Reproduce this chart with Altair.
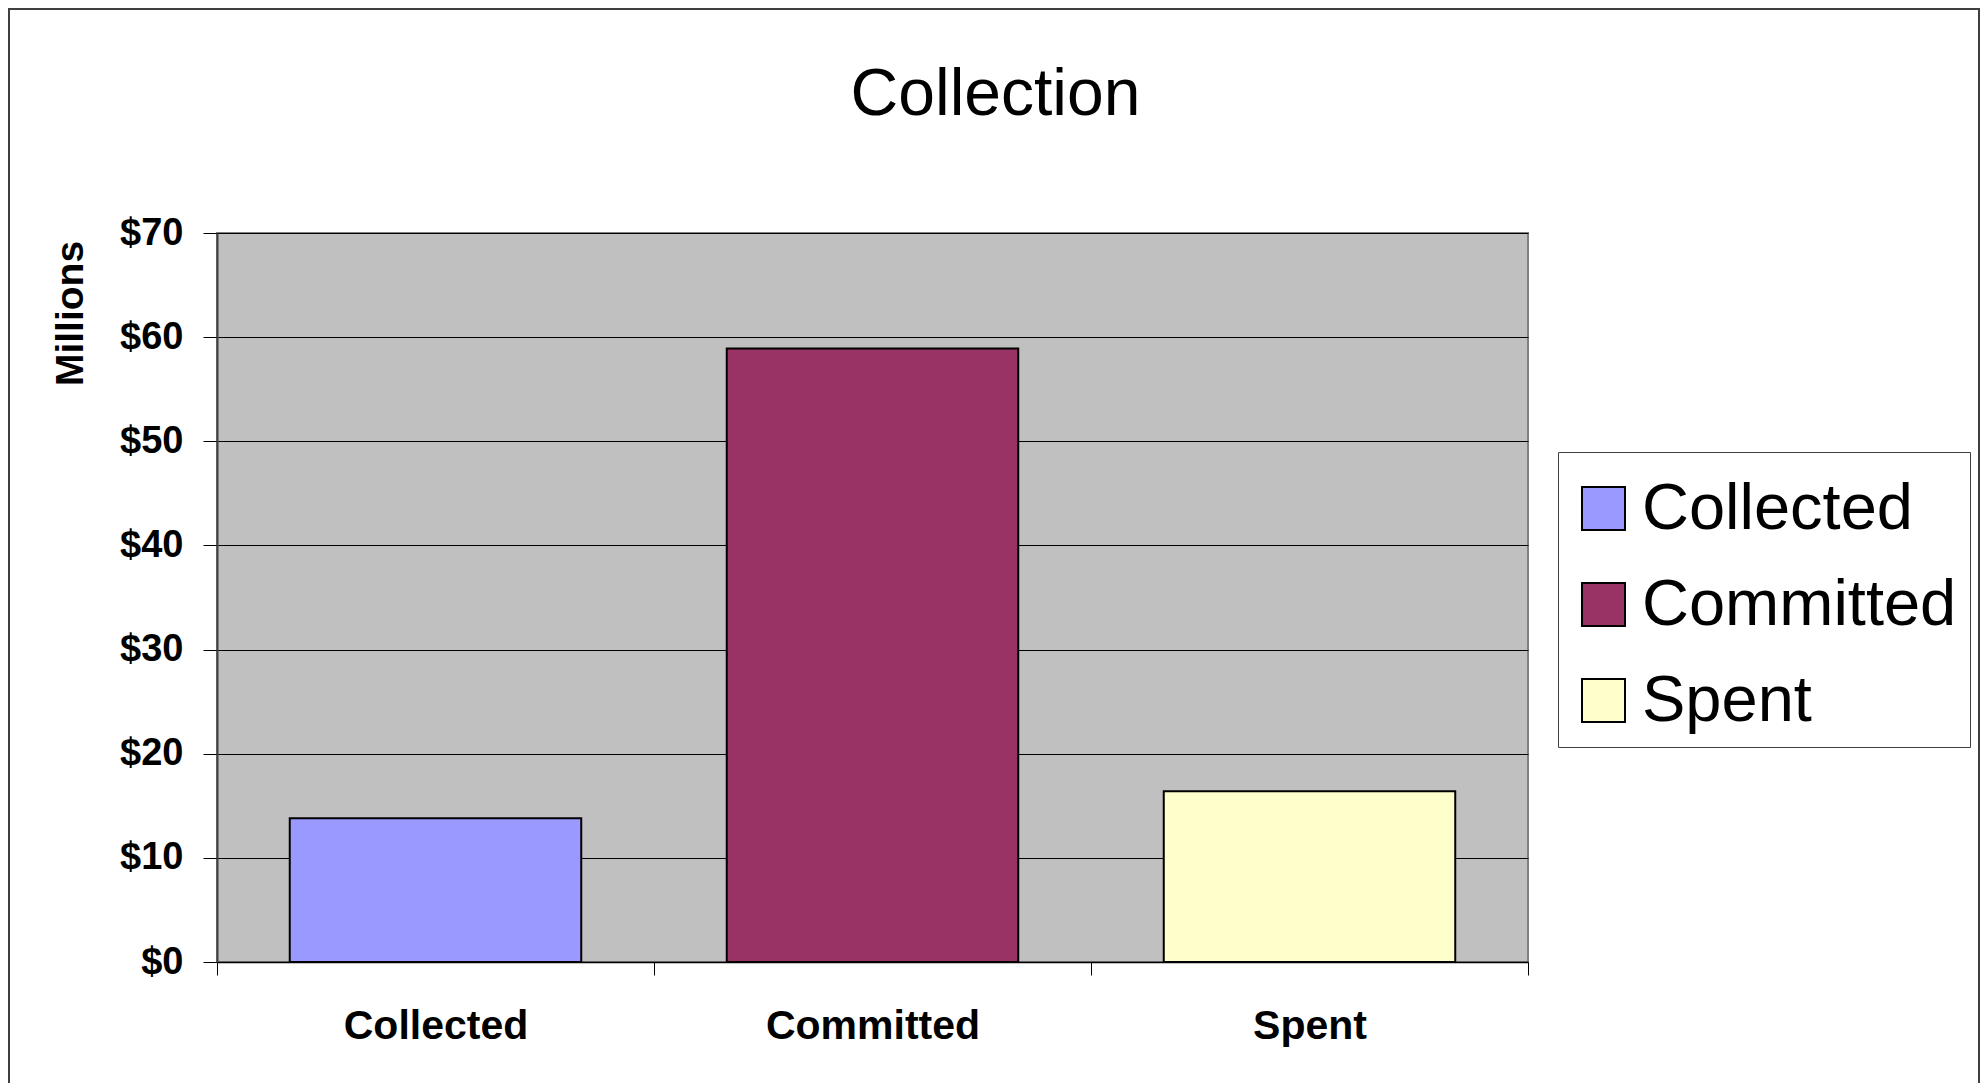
import altair as alt
import pandas as pd

categories = ["Collected", "Committed", "Spent"]
values = [13.8, 58.9, 16.4]
colors = ["#9999FF", "#993366", "#FFFFCC"]
y_ticks = [0, 10, 20, 30, 40, 50, 60, 70]

df = pd.DataFrame({"category": categories, "value": values})

FONT = "Liberation Sans, Arial, sans-serif"

bars = alt.Chart(df).mark_bar(
    stroke="black", strokeWidth=2, width=alt.RelativeBandSize(0.667)
).encode(
    x=alt.X(
        "category:N",
        sort=categories,
        scale=alt.Scale(paddingInner=0, paddingOuter=0),
        axis=alt.Axis(
            title=None,
            labelAngle=0,
            labelFont=FONT,
            labelFontSize=41,
            labelFontWeight="bold",
            labelColor="black",
            labelPadding=31,
            labelLimit=500,
            tickBand="extent",
            tickSize=13,
            tickColor="black",
            domainColor="black",
            domainWidth=1.5,
            grid=False,
        ),
    ),
    y=alt.Y(
        "value:Q",
        scale=alt.Scale(domain=[0, 70], nice=False),
        axis=alt.Axis(
            values=y_ticks,
            labelExpr="'$' + datum.value",
            labelFont=FONT,
            labelFontSize=38,
            labelFontWeight="bold",
            labelColor="black",
            labelPadding=20,
            tickSize=14,
            tickColor="black",
            domainColor="#404040",
            domainWidth=2,
            grid=True,
            gridColor="black",
            gridWidth=1,
            title="Millions",
            titleFont=FONT,
            titleFontSize=39,
            titleFontWeight="bold",
            titleColor="black",
            titleAngle=270,
            titleAlign="center",
            titleBaseline="middle",
            titleX=-147,
            titleY=80,
        ),
    ),
    color=alt.Color(
        "category:N",
        sort=categories,
        scale=alt.Scale(domain=categories, range=colors),
        legend=alt.Legend(
            title=" ",
            titleFontSize=1,
            titlePadding=10,
            orient="none",
            legendX=1341,
            legendY=219,
            direction="vertical",
            padding=13,
            strokeColor="#404040",
            fillColor="white",
            symbolType="square",
            symbolSize=1849,
            symbolStrokeColor="black",
            symbolStrokeWidth=2,
            symbolOpacity=1,
            labelFont=FONT,
            labelFontSize=65,
            labelColor="black",
            labelOffset=6,
            rowPadding=30,
            labelLimit=600,
        ),
    ),
)

border = alt.Chart(pd.DataFrame({"a": [0]})).mark_rect(
    filled=False, stroke="#404040", strokeWidth=2
).encode(
    x=alt.value(-208),
    x2=alt.value(1762),
    y=alt.value(-224),
    y2=alt.value(900),
)

chart = alt.layer(bars, border).properties(
    width=1311,
    height=729,
    autosize=alt.AutoSizeParams(type="none"),
    padding={"left": 209, "top": 225, "right": 452, "bottom": 121},
    background="white",
    title=alt.TitleParams(
        "Collection",
        font=FONT,
        fontSize=66,
        fontWeight="normal",
        color="black",
        anchor="middle",
        frame="group",
        dx=123,
        baseline="alphabetic",
        offset=0,
        dy=173,
    ),
).configure_view(
    fill="#C0C0C0", stroke="#808080", strokeWidth=2
)

chart.save("out.html", embed_options={"renderer": "svg", "actions": False})
